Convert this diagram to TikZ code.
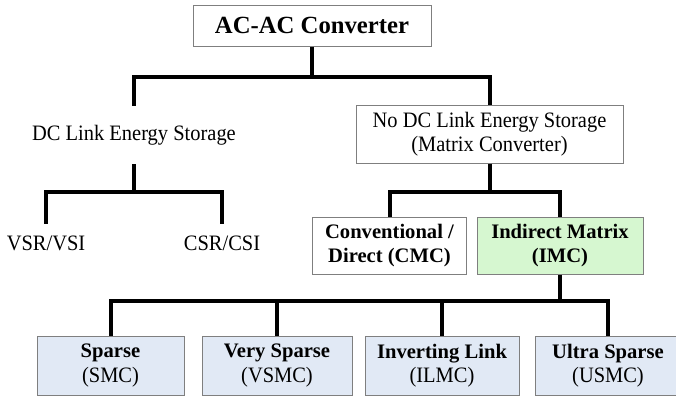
\documentclass[tikz,border=0pt]{standalone}
\usepackage{fontspec}
\setmainfont{Liberation Serif}
\newfontfamily\regf{Liberation Serif}[FakeStretch=0.93]
\definecolor{boxgray}{HTML}{7F7F7F}
\definecolor{lblue}{HTML}{E1E9F5}
\definecolor{lgreen}{HTML}{D6F7D0}
\newcommand{\bhead}[1]{{\rmfamily\fontsize{20.6}{24.5}\selectfont\bfseries #1}}
\tikzset{
  conn/.style={line width=4pt, black, line join=miter},
  txt/.style={align=center, inner sep=0pt, font=\regf\fontsize{22}{24.5}\selectfont},
  bx/.style={txt, draw=boxgray, line width=1pt},
  bbx/.style={bx, font=\rmfamily\fontsize{20.6}{24.5}\selectfont\bfseries},
  leaf/.style={bx, fill=lblue, minimum height=59pt},
}
\begin{document}
\begin{tikzpicture}[x=1pt,y=-1pt]
\useasboundingbox (0,0) rectangle (676,399);
% nodes
\node[bx, font=\rmfamily\fontsize{24.7}{29}\selectfont\bfseries, minimum width=238pt, minimum height=41pt] (top) at (312,25.5) {AC-AC Converter};
\node[txt, minimum height=58pt] (dc) at (134,135) {DC Link Energy Storage};
\node[bx, minimum width=267pt, minimum height=58pt] (nodc) at (489.5,134) {No DC Link Energy Storage\\(Matrix Converter)};
\node[txt, minimum height=38pt] (vsr) at (46,243) {VSR/VSI};
\node[txt, minimum height=38pt] (csr) at (222,243) {CSR/CSI};
\node[bbx, minimum width=154pt, minimum height=57pt] (cmc) at (389.5,245.5) {Conventional /\\Direct (CMC)};
\node[bbx, fill=lgreen, minimum width=166pt, minimum height=57pt] (imc) at (560,245.5) {Indirect Matrix\\(IMC)};
\node[leaf, minimum width=147pt] (smc) at (110.5,365.5) {\bhead{Sparse}\\(SMC)};
\node[leaf, minimum width=150pt] (vsmc) at (277,365.5) {\bhead{Very Sparse}\\(VSMC)};
\node[leaf, minimum width=154pt] (ilmc) at (442,365.5) {\bhead{Inverting Link}\\(ILMC)};
\node[leaf, minimum width=146pt] (usmc) at (608,365.5) {\bhead{Ultra Sparse}\\(USMC)};
% junctions
\coordinate (j1) at (312,77);
\coordinate (j2) at (134,192);
\coordinate (j3) at (489.5,192);
\coordinate (j4) at (560,301);
% connectors
\draw[conn] (top.south) -- (j1);
\draw[conn] (dc.north) |- (j1) -| (nodc.north);
\draw[conn] (dc.south) -- (j2);
\draw[conn] (vsr.north) |- (j2) -| (csr.north);
\draw[conn] (nodc.south) -- (j3);
\draw[conn] (cmc.north) |- (j3) -| (imc.north);
\draw[conn] (imc.south) -- (j4);
\draw[conn] (smc.north) |- (j4) -| (usmc.north);
\draw[conn] (vsmc.north) -- (vsmc.north |- j4);
\draw[conn] (ilmc.north) -- (ilmc.north |- j4);
\end{tikzpicture}
\end{document}
